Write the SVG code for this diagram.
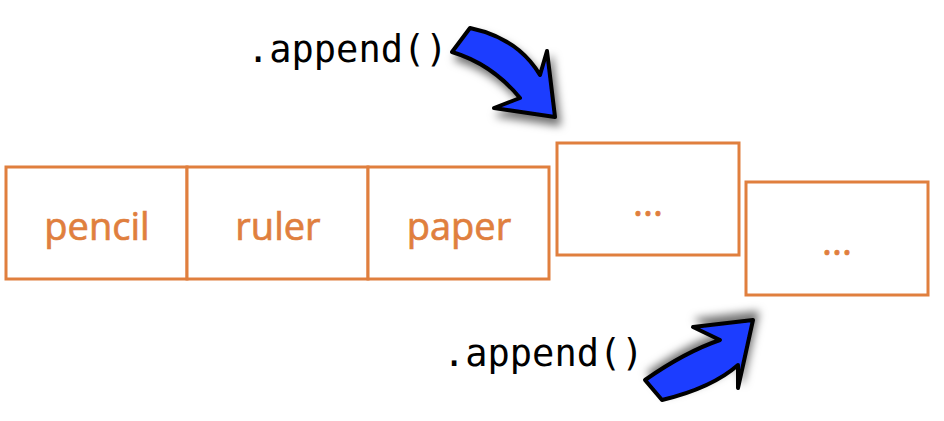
<svg xmlns="http://www.w3.org/2000/svg" width="944" height="421" viewBox="0 0 944 421">
<style>
.box{fill:#fff;stroke:#E07F3E;stroke-width:3}
.lbl{font-family:"Open Sans",Lato,sans-serif;font-size:38px;fill:#E07F3E;stroke:#E07F3E;stroke-width:0.7;text-anchor:middle}
.code{font-family:"DejaVu Sans Mono","Liberation Mono",monospace;font-size:37px;fill:#000}
.arr{fill:#1F3CFF;stroke:#000;stroke-width:4;stroke-linejoin:round}
</style>
<defs>
<filter id="shDown" x="-30%" y="-30%" width="160%" height="160%">
<feDropShadow dx="4" dy="7" stdDeviation="4" flood-color="#000" flood-opacity="0.55"/>
</filter>
<filter id="shUp" x="-30%" y="-30%" width="160%" height="160%">
<feDropShadow dx="4" dy="-7" stdDeviation="4" flood-color="#000" flood-opacity="0.55"/>
</filter>
</defs>
<rect width="944" height="421" fill="#fff"/>
<g id="node-pencil"><rect class="box" x="6" y="167" width="181" height="112"/><text class="lbl" x="97" y="240">pencil</text></g>
<g id="node-ruler"><rect class="box" x="187" y="167" width="181" height="112"/><text class="lbl" x="278" y="240">ruler</text></g>
<g id="node-paper"><rect class="box" x="368" y="167" width="181" height="112"/><text class="lbl" x="459" y="240">paper</text></g>
<g id="node-more1"><rect class="box" x="557" y="143" width="182" height="112"/><text class="lbl" x="648" y="216">...</text></g>
<g id="node-more2"><rect class="box" x="746" y="182" width="182" height="113"/><text class="lbl" x="837" y="255">...</text></g>
<g id="connectors">
<text class="code" x="247" y="62">.append()</text>
<path class="arr" filter="url(#shDown)" d="M470,28 Q518,38 540,75 L547,51 L555,117 L494,108 L520,98 Q492,64 452,52 Z"/>
<text class="code" x="443" y="366">.append()</text>
<path class="arr" filter="url(#shUp)" d="M645,380 Q685,352 720,340 L693,327 L753,320 L738,388 L738,365 Q712,388 662,400 Z"/>
</g>
</svg>
